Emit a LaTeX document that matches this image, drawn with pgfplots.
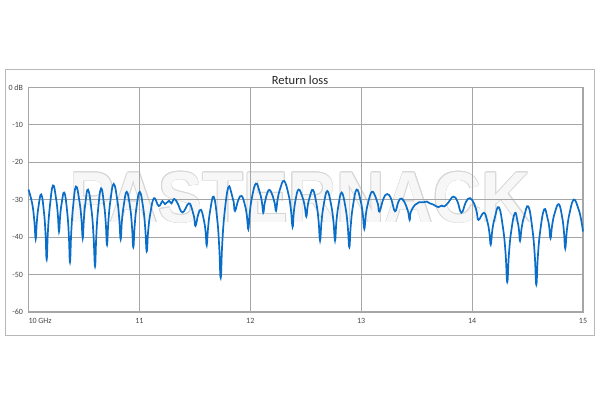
\documentclass[border=0pt]{standalone}
\usepackage{pgfplots}
\pgfplotsset{compat=1.18}
\usepackage{fontspec}
\setmainfont{Carlito}
\newfontfamily\wmfont{Liberation Sans}

\definecolor{rlblue}{RGB}{10,110,200}
\definecolor{gridgray}{RGB}{166,166,166}
\definecolor{labelgray}{RGB}{70,70,70}

\begin{document}
\begin{tikzpicture}[x=1pt,y=1pt]
% page 600 x 400
\path[fill=white] (0,0) rectangle (600,400);
\draw[color=gridgray!80, line width=1pt] (5,65) rectangle (594,330);

% watermark
\foreach \dx/\dy in {0.7/0,-0.7/0,0/0.7,0/-0.7,0.5/0.5,-0.5/0.5,0.5/-0.5,-0.5/-0.5}
  \node[anchor=base, inner sep=0pt, text=black!16, xscale=0.93,
        font=\wmfont\bfseries\fontsize{72}{72}\selectfont] at (300+\dx,178+\dy) {PASTERNACK};
\node[anchor=base, inner sep=0pt, text=black!3, xscale=0.93,
      font=\wmfont\bfseries\fontsize{72}{72}\selectfont] at (300,178) {PASTERNACK};

\node[font=\fontsize{12.5}{14}\selectfont, text=black!85] at (300,320) {Return loss};

\begin{axis}[
at={(28.5pt,88pt)}, anchor=south west,
scale only axis,
width=554.5pt, height=224.7pt,
xmin=10, xmax=15,
ymin=-60, ymax=0,
xtick={10,11,12,13,14,15},
xticklabels={\makebox[0pt][l]{10 GHz},11,12,13,14,15},
ytick={-60,-50,-40,-30,-20,-10,0},
yticklabels={-60,-50,-40,-30,-20,-10,0 dB},
major tick length=0pt,
grid=major,
major grid style={color=gridgray, line width=1.2pt},
axis line style={color=gridgray, line width=1.2pt},
tick label style={font=\fontsize{8}{9}\selectfont, text=labelgray},
x tick label style={anchor=north, yshift=-3pt},
y tick label style={anchor=east, xshift=-2pt},
clip=false,
]
\addplot[color=rlblue, line width=1.7pt, smooth, tension=0.75] coordinates {
(10.000,-27.3) (10.033,-31.0) (10.052,-35.5) (10.065,-40.5)
(10.075,-36.0) (10.090,-31.9) (10.115,-28.6) (10.140,-33.5) (10.154,-39.4) (10.164,-46.0)
(10.175,-38.5) (10.193,-31.7) (10.221,-26.2) (10.248,-29.6) (10.264,-33.8) (10.275,-38.5)
(10.285,-34.5) (10.299,-31.0) (10.323,-28.1) (10.349,-33.3) (10.364,-39.6) (10.374,-46.7)
(10.385,-39.0) (10.401,-32.2) (10.428,-26.5) (10.459,-30.4) (10.477,-35.1) (10.489,-40.3)
(10.499,-35.4) (10.513,-30.9) (10.537,-27.3) (10.569,-33.0) (10.587,-40.0) (10.600,-47.8)
(10.611,-39.9) (10.627,-32.8) (10.654,-27.0) (10.681,-31.2) (10.697,-36.4) (10.708,-42.1)
(10.720,-35.9) (10.738,-30.4) (10.768,-25.8) (10.800,-30.0) (10.818,-35.0) (10.831,-40.6)
(10.842,-35.8) (10.859,-31.5) (10.886,-27.9) (10.916,-32.0) (10.933,-37.1) (10.945,-42.7)
(10.957,-37.1) (10.974,-32.0) (11.003,-27.9) (11.035,-32.4) (11.053,-37.8) (11.066,-43.8)
(11.079,-38.4) (11.099,-33.6) (11.132,-29.6) (11.174,-31.7) (11.208,-30.4) (11.231,-31.2)
(11.267,-30.3) (11.289,-31.0) (11.314,-29.8) (11.345,-31.0) (11.389,-33.4) (11.445,-31.0)
(11.476,-32.7) (11.494,-34.7) (11.506,-37.0) (11.531,-33.9) (11.555,-32.7) (11.581,-35.4)
(11.597,-38.6) (11.607,-42.2) (11.620,-37.3) (11.639,-32.8) (11.670,-29.2) (11.702,-35.3)
(11.720,-42.7) (11.733,-50.9) (11.747,-41.7) (11.768,-33.5) (11.802,-26.7) (11.832,-28.5)
(11.850,-30.6) (11.862,-33.0) (11.892,-30.1) (11.922,-29.0) (11.952,-31.5) (11.970,-34.5)
(11.982,-37.9) (11.996,-33.3) (12.017,-29.1) (12.051,-25.7) (12.084,-27.9) (12.104,-30.5)
(12.117,-33.5) (12.128,-31.2) (12.144,-29.1) (12.171,-27.4) (12.202,-29.0) (12.220,-30.9)
(12.232,-33.0) (12.246,-30.0) (12.268,-27.2) (12.304,-25.0) (12.343,-28.4) (12.366,-32.6)
(12.381,-37.3) (12.392,-33.5) (12.408,-30.1) (12.435,-27.3) (12.470,-29.3) (12.491,-31.8)
(12.505,-34.5) (12.517,-31.8) (12.535,-29.4) (12.565,-27.4) (12.597,-31.2) (12.616,-35.8)
(12.629,-40.9) (12.642,-35.9) (12.662,-31.4) (12.694,-27.7) (12.729,-31.4) (12.750,-35.9)
(12.764,-40.9) (12.776,-36.0) (12.794,-31.7) (12.824,-28.1) (12.859,-32.2) (12.879,-37.2)
(12.893,-42.7) (12.906,-36.8) (12.926,-31.6) (12.959,-27.3) (12.994,-30.2) (13.014,-33.8)
(13.028,-37.8) (13.042,-34.0) (13.063,-30.7) (13.097,-27.9) (13.131,-29.4) (13.151,-31.2)
(13.165,-33.2) (13.200,-29.8) (13.235,-28.5) (13.270,-29.8) (13.305,-33.1) (13.335,-30.6)
(13.365,-29.7) (13.401,-31.3) (13.423,-33.2) (13.437,-35.4) (13.447,-33.3) (13.485,-31.4)
(13.521,-30.7) (13.560,-30.7) (13.591,-30.5) (13.620,-31.0) (13.650,-31.3) (13.695,-32.0)
(13.726,-31.6) (13.749,-31.8) (13.785,-30.8) (13.830,-29.2) (13.867,-30.4) (13.904,-33.5)
(13.943,-30.7) (13.981,-29.6) (14.020,-31.2) (14.043,-33.5) (14.058,-35.4) (14.107,-33.5)
(14.138,-35.9) (14.156,-38.8) (14.168,-42.0) (14.183,-38.0) (14.205,-34.8) (14.241,-32.0)
(14.279,-37.6) (14.302,-44.4) (14.317,-52.0) (14.331,-45.0) (14.351,-38.8) (14.385,-33.6)
(14.409,-35.7) (14.423,-38.2) (14.432,-41.0) (14.447,-37.5) (14.470,-34.4) (14.507,-31.8)
(14.543,-37.7) (14.565,-44.8) (14.579,-52.7) (14.593,-45.1) (14.615,-38.2) (14.650,-32.6)
(14.679,-34.8) (14.696,-37.4) (14.707,-40.3) (14.722,-36.8) (14.744,-33.7) (14.781,-31.2)
(14.811,-34.5) (14.828,-38.5) (14.840,-43.0) (14.855,-38.1) (14.879,-33.6) (14.917,-30.0)
(14.958,-32.4) (14.983,-35.3) (15.000,-38.5)
};
\end{axis}
\end{tikzpicture}
\end{document}
